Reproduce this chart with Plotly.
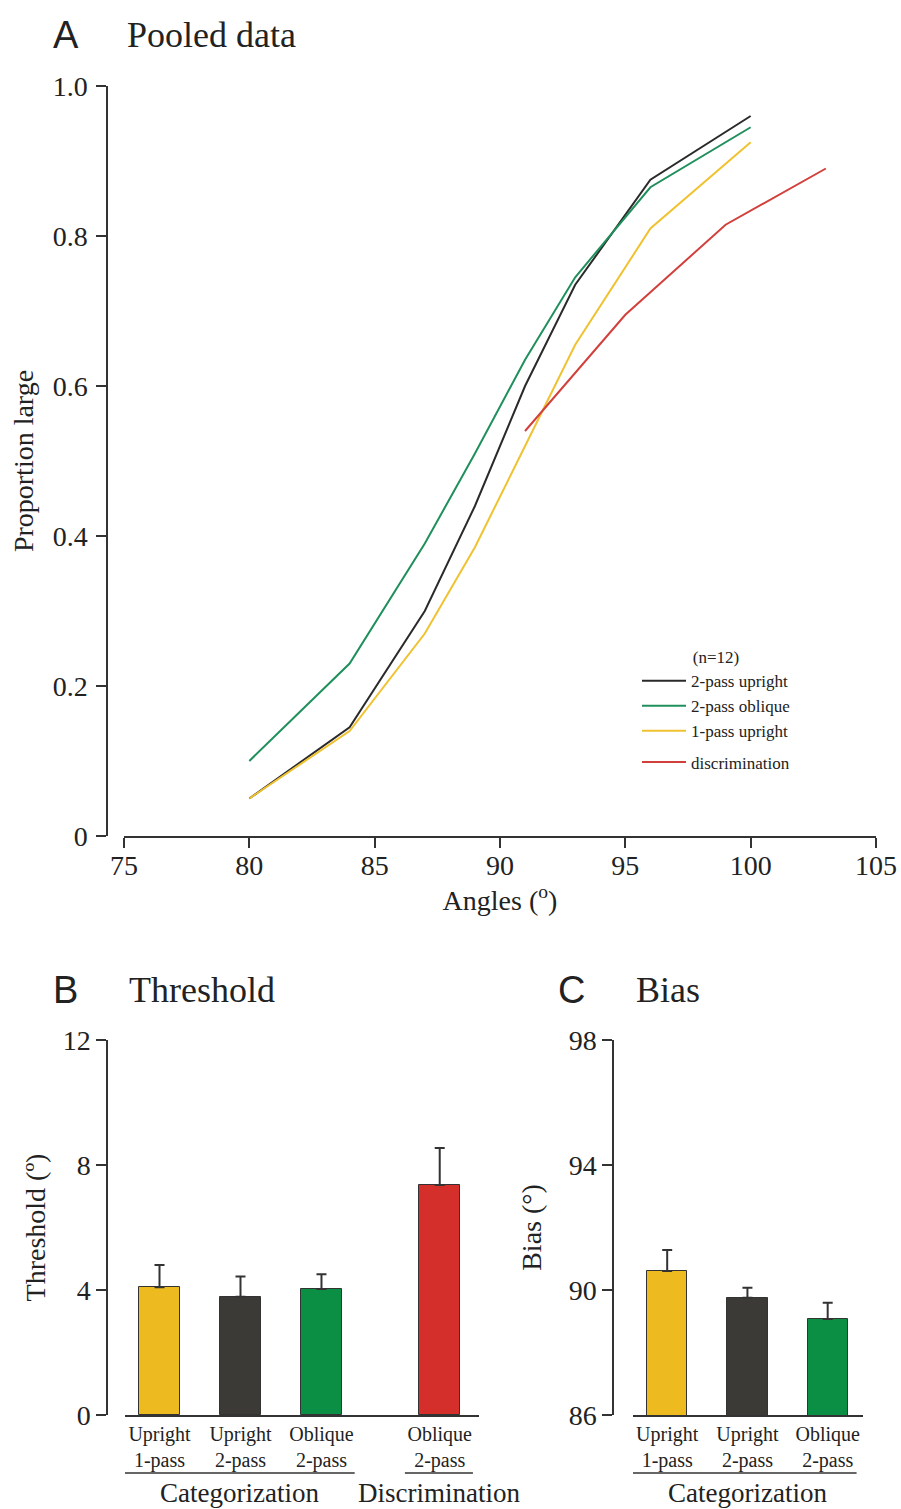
import plotly.graph_objects as go

W, H = 901, 1509
SERIF = "Liberation Serif, Times New Roman, serif"
SANS = "Liberation Sans, Arial, sans-serif"

# ---------------- Panel A data ----------------
angles_cat = [80, 84, 87, 89, 91, 93, 96, 100]
up2 = [0.05, 0.145, 0.30, 0.44, 0.60, 0.735, 0.875, 0.96]
obl2 = [0.10, 0.23, 0.39, 0.51, 0.635, 0.745, 0.865, 0.945]
up1 = [0.05, 0.14, 0.27, 0.385, 0.52, 0.655, 0.81, 0.925]
angles_disc = [91, 95, 99, 103]
disc = [0.54, 0.695, 0.815, 0.89]
series_names = ["2-pass upright", "2-pass oblique", "1-pass upright", "discrimination"]
line_colors = ["#2a2a2a", "#1f8f5c", "#F0C230", "#D2403B"]

# ---------------- Panel B data ----------------
thr_labels = ["Upright<br>1-pass", "Upright<br>2-pass", "Oblique<br>2-pass", "Oblique<br>2-pass"]
thr_group = [0, 0, 0, 1]
thr_values = [4.09, 3.78, 4.03, 7.36]
thr_err = [0.71, 0.65, 0.47, 1.18]
thr_colors = ["#EDBB1F", "#3C3A37", "#0B8F45", "#D42F2B"]

# ---------------- Panel C data ----------------
bias_labels = ["Upright<br>1-pass", "Upright<br>2-pass", "Oblique<br>2-pass"]
bias_values = [90.61, 89.75, 89.07]
bias_err = [0.67, 0.32, 0.52]
bias_colors = ["#EDBB1F", "#3C3A37", "#0B8F45"]

group_names = ["Categorization", "Discrimination"]
GROUP_GAP = 0.46
thr_pos = [i + GROUP_GAP * g for i, g in enumerate(thr_group)]
bias_pos = list(range(len(bias_values)))


def px_x(p):
    return p / W


def px_y(p):
    return 1 - p / H


fig = go.Figure()

# Panel A lines
xs = [angles_cat, angles_cat, angles_cat, angles_disc]
ys = [up2, obl2, up1, disc]
groups = ["cat", "cat", "cat", "disc"]
for name, x, y, c, g in zip(series_names, xs, ys, line_colors, groups):
    fig.add_trace(go.Scatter(x=x, y=y, mode="lines", name=name,
                             line=dict(color=c, width=2),
                             legendgroup=g, xaxis="x", yaxis="y"))

# Panel B bars
fig.add_trace(go.Bar(x=thr_pos, y=thr_values, width=0.5,
                     marker=dict(color=thr_colors, line=dict(color="#333", width=1)),
                     error_y=dict(type="data", symmetric=False, array=thr_err,
                                  arrayminus=[0] * len(thr_err), color="#333",
                                  thickness=2, width=5),
                     showlegend=False, xaxis="x2", yaxis="y2"))

# Panel C bars
fig.add_trace(go.Bar(x=bias_pos, y=bias_values, width=0.5,
                     marker=dict(color=bias_colors, line=dict(color="#333", width=1)),
                     error_y=dict(type="data", symmetric=False, array=bias_err,
                                  arrayminus=[0] * len(bias_err), color="#333",
                                  thickness=2, width=5),
                     showlegend=False, xaxis="x3", yaxis="y3"))

axis_common = dict(showline=True, linecolor="#333", linewidth=1.5, showgrid=False,
                   zeroline=False, ticks="outside", ticklen=10, tickwidth=1.5,
                   tickcolor="#333", automargin=False,
                   tickfont=dict(family=SERIF, size=28, color="#222"))
cat_axis = {**axis_common, "ticks": "", "ticklen": 0,
            "tickfont": dict(family=SERIF, size=20, color="#222")}
title_font = dict(family=SERIF, size=28, color="#222")

fig.update_layout(
    template="none",
    width=W, height=H,
    margin=dict(l=0, r=0, t=0, b=0, pad=0),
    paper_bgcolor="white", plot_bgcolor="rgba(0,0,0,0)",
    font=dict(family=SERIF, color="#222"),
    bargap=0,
    xaxis=dict(domain=[px_x(124), px_x(876)], range=[75, 105], anchor="y",
               tickvals=[75, 80, 85, 90, 95, 100, 105], ticklabelstandoff=-6,
               title=dict(text="Angles (<sup>o</sup>)", font=title_font, standoff=10),
               **axis_common),
    yaxis=dict(domain=[px_y(836), px_y(86)], range=[0, 1], anchor="free", position=px_x(107),
               tickvals=[0, 0.2, 0.4, 0.6, 0.8, 1.0],
               ticktext=["0", "0.2", "0.4", "0.6", "0.8", "1.0"], ticklabelstandoff=3,
               title=dict(text="Proportion large", font=title_font, standoff=10),
               **axis_common),
    xaxis2=dict(domain=[px_x(125), px_x(479)], range=[-0.426, 3.945], anchor="y2",
                tickvals=thr_pos, ticktext=thr_labels, **cat_axis),
    yaxis2=dict(domain=[px_y(1415), px_y(1040)], range=[0, 12], anchor="free", position=px_x(107),
                tickvals=[0, 4, 8, 12],
                title=dict(text="Threshold (º)", font=title_font, standoff=8),
                **axis_common),
    xaxis3=dict(domain=[px_x(633), px_x(863)], range=[-0.426, 2.44], anchor="y3",
                tickvals=bias_pos, ticktext=bias_labels, **cat_axis),
    yaxis3=dict(domain=[px_y(1415), px_y(1040)], range=[86, 98], anchor="free", position=px_x(613),
                tickvals=[86, 90, 94, 98],
                title=dict(text="Bias (°)", font=title_font, standoff=18),
                **axis_common),
    legend=dict(x=px_x(637), y=px_y(641), xanchor="left", yanchor="top",
                bgcolor="rgba(0,0,0,0)", font=dict(family=SERIF, size=17, color="#222"),
                title=dict(text="(n=12)", side="top center", font=dict(family=SERIF, size=17)),
                traceorder="grouped", tracegroupgap=6, itemwidth=44),
)

# Panel letters and titles
panels = [("A", "Pooled data", 51, 125, 35), ("B", "Threshold", 51, 127, 990), ("C", "Bias", 556, 634, 990)]
for letter, title, lx, tx, yc in panels:
    fig.add_annotation(text=letter, x=px_x(lx), y=px_y(yc), xref="paper", yref="paper",
                       xanchor="left", yanchor="middle", showarrow=False,
                       font=dict(family=SANS, size=38, color="#222"))
    fig.add_annotation(text=title, x=px_x(tx), y=px_y(yc), xref="paper", yref="paper",
                       xanchor="left", yanchor="middle", showarrow=False,
                       font=dict(family=SERIF, size=36, color="#222"))

# Group underlines and labels (panel B)
groups_B = [(-0.426, 2.41, group_names[0]), (3.03, 3.87, group_names[1])]
for x0, x1, label in groups_B:
    fig.add_shape(type="line", xref="x2", yref="paper", x0=x0, x1=x1,
                  y0=px_y(1473), y1=px_y(1473), line=dict(color="#333", width=1.5))
    fig.add_annotation(text=label, x=(x0 + x1) / 2, y=px_y(1476), xref="x2", yref="paper",
                       xanchor="center", yanchor="top", showarrow=False,
                       font=dict(family=SERIF, size=27, color="#222"))
# Panel C
fig.add_shape(type="line", xref="x3", yref="paper", x0=-0.43, x1=2.36,
              y0=px_y(1473), y1=px_y(1473), line=dict(color="#333", width=1.5))
fig.add_annotation(text=group_names[0], x=1, y=px_y(1476), xref="x3", yref="paper",
                   xanchor="center", yanchor="top", showarrow=False,
                   font=dict(family=SERIF, size=27, color="#222"))

# Remove the default page margin so the 901x1509 figure fills the window exactly.
fig.write_html("out.html", config={"displayModeBar": False},
               post_script="document.body.style.margin='0';document.body.style.overflow='hidden';")
